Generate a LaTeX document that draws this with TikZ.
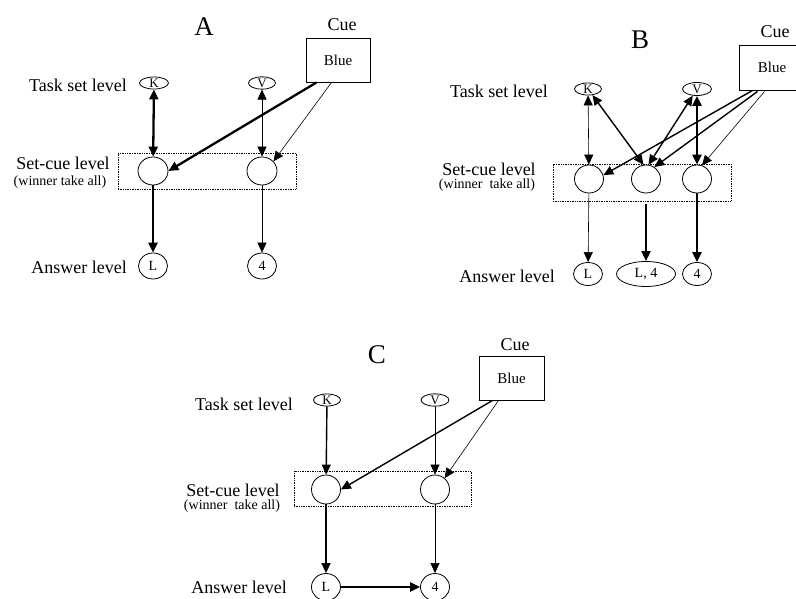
\documentclass[tikz,border=0pt]{standalone}
\usepackage{fontspec}
\setmainfont{Liberation Serif}
\usetikzlibrary{arrows.meta,shapes.geometric,calc}
\begin{document}
\begin{tikzpicture}[x=1pt,y=-1pt,
 title/.style={font=\fontsize{27}{29}\selectfont, inner sep=0},
 lvl/.style={font=\fontsize{18}{20}\selectfont, inner sep=0},
 sub/.style={font=\fontsize{14}{16}\selectfont, inner sep=0},
 cuebox/.style={draw, line width=0.9pt, font=\fontsize{15}{17}\selectfont, inner sep=0},
 task/.style={draw, ellipse, line width=0.8pt, inner sep=0, font=\fontsize{13}{13}\selectfont},
 unit/.style={draw, ellipse, line width=0.8pt, inner sep=0},
 ans/.style={draw, ellipse, line width=0.8pt, inner sep=0, font=\fontsize{14}{14}\selectfont},
 grp/.style={draw, densely dotted, line width=0.7pt, inner sep=0},
 tip/.style={-{Triangle[length=10pt,width=9pt]}},
 tips/.style={{Triangle[length=10pt,width=9pt]}-{Triangle[length=10pt,width=9pt]}},
 wk/.style={line width=0.6pt},
 md/.style={line width=1.4pt},
 st/.style={line width=2.3pt},
]
\useasboundingbox (0,0) rectangle (796,599);

% ---------------- Panel A ----------------
\node[title] (tA) at (204,27) {A};
\node[lvl] (cueA) at (342,25) {Cue};
\node[cuebox, minimum width=64pt, minimum height=44pt] (bA) at (338,60) {Blue};
\node[lvl, anchor=east] (tsA) at (127,85) {Task set level};
\node[task, minimum width=29pt, minimum height=12pt] (kA) at (154,83) {K};
\node[task, minimum width=27pt, minimum height=12pt] (vA) at (262,83) {V};
\node[grp, minimum width=178pt, minimum height=36pt] (sbA) at (207,171) {};
\node[unit, minimum width=30pt, minimum height=28pt] (cA1) at (153,171) {};
\node[unit, minimum width=30pt, minimum height=28pt] (cA2) at (262,171) {};
\node[lvl] (scA) at (63,163) {Set-cue level};
\node[sub] (wtA) at (60,182) {(winner take all)};
\node[lvl, anchor=east] (alA) at (127,267) {Answer level};
\node[ans, minimum width=29pt, minimum height=26pt] (lA) at (153,266) {L};
\node[ans, minimum width=29pt, minimum height=26pt] (fA) at (262,266) {4};

\draw[st,tips] (kA) -- (cA1);
\draw[wk,tips] (vA) -- (cA2);
\draw[st,tip] ($(bA.south west)+(11,0)$) -- (cA1.east);
\draw[wk,tip] ($(bA.south west)+(26,0)$) -- (cA2.40);
\draw[st,tip] (cA1) -- (lA);
\draw[wk,tip] (cA2) -- (fA);

% ---------------- Panel B ----------------
\node[title] (tB) at (640,40) {B};
\node[lvl] (cueB) at (775,32) {Cue};
\node[cuebox, minimum width=66pt, minimum height=45pt] (bB) at (772,67.5) {Blue};
\node[lvl, anchor=east] (tsB) at (548,91) {Task set level};
\node[task, minimum width=27pt, minimum height=12pt] (kB) at (588,89) {K};
\node[task, minimum width=29pt, minimum height=13pt] (vB) at (697,89) {V};
\node[grp, minimum width=178pt, minimum height=37pt] (sbB) at (642,182.5) {};
\node[unit, minimum width=29pt, minimum height=28pt] (cB1) at (589,179) {};
\node[unit, minimum width=29pt, minimum height=28pt] (cB2) at (646,179) {};
\node[unit, minimum width=29pt, minimum height=28pt] (cB3) at (697,179) {};
\node[lvl] (scB) at (489,169) {Set-cue level};
\node[sub] (wtB) at (487,185.5) {(winner\ \ take all)};
\node[lvl, anchor=east] (alB) at (555,276) {Answer level};
\node[ans, minimum width=29pt, minimum height=23pt] (lB) at (588,274) {L};
\node[ans, minimum width=59pt, minimum height=25pt] (eB) at (646,274) {L, 4};
\node[ans, minimum width=29pt, minimum height=23pt] (fB) at (697,274) {4};

\draw[wk,tips] (kB) -- (cB1);
\draw[md,tips] (kB) -- (cB2.100);
\draw[md,tips] (vB) -- (cB2.80);
\draw[st,tips] (vB) -- (cB3);
\draw[md,tip] ($(bB.south west)+(14,0)$) -- (cB1.15);
\draw[md,tip] ($(bB.south west)+(19,1)$) -- (cB2.55);
\draw[wk,tip] ($(bB.south west)+(26,1)$) -- (cB3.70);
\draw[wk,tip] (cB1) -- (lB);
\coordinate (gB) at ($(sbB.south -| eB)+(0,3)$);
\draw[line width=1.8pt,tip] (gB) -- (eB);
\draw[st,tip] (cB3) -- (fB);

% ---------------- Panel C ----------------
\node[title] (tC) at (377,355) {C};
\node[lvl] (cueC) at (515,345) {Cue};
\node[cuebox, minimum width=65pt, minimum height=44pt] (bC) at (511.5,378) {Blue};
\node[lvl, anchor=east] (tsC) at (293,404) {Task set level};
\node[task, minimum width=27pt, minimum height=12pt] (kC) at (327,400) {K};
\node[task, minimum width=28pt, minimum height=12pt] (vC) at (435,400) {V};
\node[grp, minimum width=177pt, minimum height=35pt] (sbC) at (382.5,488.5) {};
\node[unit, minimum width=29pt, minimum height=29pt] (cC1) at (326,489.5) {};
\node[unit, minimum width=29pt, minimum height=29pt] (cC2) at (435,489.5) {};
\node[lvl] (scC) at (233,490) {Set-cue level};
\node[sub] (wtC) at (232,506.5) {(winner\ \ take all)};
\node[lvl, anchor=east] (alC) at (287,587) {Answer level};
\node[ans, minimum width=29pt, minimum height=27pt] (lC) at (326,587) {L};
\node[ans, minimum width=29pt, minimum height=27pt] (fC) at (435,587) {4};

\draw[md,tip] (kC) -- (cC1);
\draw[wk,tip] (vC) -- (cC2);
\draw[md,tip] ($(bC.south west)+(14,0)$) -- (cC1.east);
\draw[wk,tip] ($(bC.south west)+(20,0)$) -- (cC2.50);
\draw[md,tip] (cC1) -- (lC);
\draw[wk,tip] (cC2) -- (fC);
\draw[st,tip] (lC) -- (fC);
\end{tikzpicture}
\end{document}
